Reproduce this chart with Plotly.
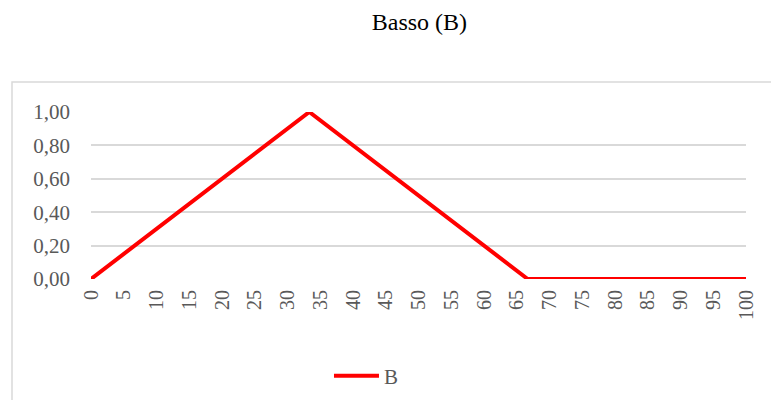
import plotly.graph_objects as go

# Membership function "Basso (B)": breakpoints of the triangular shape
x_vals = [0, 33.33, 66.67, 100]
b_vals = [0.0, 1.0, 0.0, 0.0]

x_ticks = list(range(0, 101, 5))
y_ticks = [0, 0.2, 0.4, 0.6, 0.8, 1.0]

FONT = "Liberation Serif"
GRAY = "#595959"

fig = go.Figure()
fig.add_trace(go.Scatter(
    x=x_vals, y=b_vals, mode="lines", name="B",
    line=dict(color="#ff0000", width=4),
))

fig.update_layout(
    width=771, height=400,
    margin=dict(l=91, r=25, t=112, b=121),
    paper_bgcolor="white", plot_bgcolor="white",
    separators=", ",
    title=dict(text="Basso (B)", x=0.544, xanchor="center", y=0.945, yanchor="middle",
               font=dict(family=FONT, size=24, color="#000000")),
    font=dict(family=FONT, color=GRAY),
    xaxis=dict(range=[0, 100], tickvals=x_ticks, ticktext=[str(v) for v in x_ticks],
               tickangle=-90, showgrid=False, zeroline=False, showline=False,
               automargin=False, ticks="", ticklabelstandoff=6,
               tickfont=dict(size=20, color=GRAY)),
    yaxis=dict(range=[0, 1], tickvals=y_ticks, tickformat=".2f",
               showgrid=True, gridcolor="#d9d9d9", gridwidth=1.5, zeroline=False,
               showline=False, automargin=False, ticks="", ticklabelstandoff=20,
               tickfont=dict(size=21, color=GRAY)),
    showlegend=True,
    legend=dict(orientation="h", xref="container", yref="container",
                x=0.4267, xanchor="left", y=0.06, yanchor="middle",
                itemwidth=45, font=dict(family=FONT, size=21, color=GRAY)),
    shapes=[dict(type="rect", xref="paper", yref="paper",
                 x0=-0.1206, x1=1.1, y0=-0.8, y1=1.1796,
                 line=dict(color="#d9d9d9", width=1.5), layer="below")],
)

fig.write_html("out.html")
